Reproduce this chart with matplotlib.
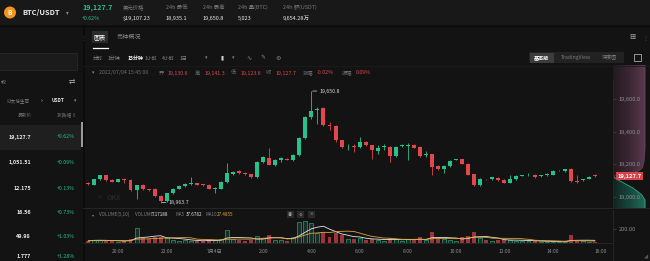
import numpy as np
import pandas as pd
import matplotlib
matplotlib.use("Agg")
import matplotlib.pyplot as plt
from matplotlib.patches import Rectangle, Ellipse
from matplotlib.lines import Line2D
from matplotlib.ticker import FuncFormatter
from matplotlib.colors import LinearSegmentedColormap

plt.rcParams['font.family'] = ['Noto Sans CJK SC', 'DejaVu Sans']

# ---------------- data ----------------
symbol = "BTC/USDT"
last_price_text = "19,127.7"
change_text = "+0.62%"
header_labels = ["美元价格", "24h 最低", "24h 最高", "24h 量(BTC)", "24h 额(USDT)"]
header_values = ["$19,107.23", "18,935.1", "19,650.8", "5,023", "9,654.28万"]

list_prices = ["19,127.7", "1,051.51", "12.175", "16.56", "49.98", "1.777"]
list_changes = ["+0.62%", "+0.09%", "+0.13%", "+0.73%", "+1.03%", "+1.28%"]

intervals = ["分时", "1分钟", "15分钟", "1小时", "4小时", "1日"]
ohlc_labels = ["开", "高", "低", "收", "涨幅", "振幅"]
ohlc_values = ["19,130.6", "19,141.3", "19,123.6", "19,127.7", "-0.02%", "0.09%"]
last_time = "2022/07/04 15:45:00"

opens = [19085, 19075, 19108, 19132, 19102, 19092, 19105, 19104, 19040, 19071,
         19045, 19050, 19003, 18972, 19020, 19050, 19067, 19079, 19082, 19076,
         19075, 19050, 19050, 19091, 19140, 19157, 19145, 19138, 19122, 19214,
         19239, 19198, 19223, 19235, 19227, 19255, 19362, 19491, 19532, 19547,
         19440, 19436, 19348, 19310, 19312, 19307, 19337, 19317, 19280, 19308,
         19307, 19249, 19311, 19313, 19321, 19307, 19259, 19262, 19190, 19173,
         19188, 19229, 19231, 19204, 19138, 19071, 19108, 19106, 19118, 19104,
         19087, 19106, 19130, 19131, 19136, 19126, 19132, 19136, 19162, 19157,
         19173, 19095, 19104, 19112, 19130.6]
highs = [19090, 19112, 19135, 19136, 19106, 19112, 19115, 19108, 19075, 19076,
         19048, 19055, 19008, 19025, 19054, 19070, 19085, 19122, 19085, 19080,
         19078, 19061, 19095, 19210, 19160, 19162, 19150, 19142, 19220, 19250,
         19301, 19230, 19243, 19240, 19263, 19370, 19500, 19650.8, 19553, 19553,
         19461, 19442, 19352, 19327, 19327, 19368, 19345, 19320, 19317, 19327,
         19315, 19311, 19327, 19330, 19327, 19311, 19280, 19266, 19195, 19195,
         19225, 19235, 19235, 19208, 19140, 19116, 19112, 19124, 19122, 19106,
         19136, 19132, 19135, 19143, 19140, 19135, 19144, 19163, 19166, 19173,
         19176, 19136, 19112, 19126, 19141.3]
lows = [19072, 19070, 19105, 19098, 19088, 19088, 19085, 19035, 18985, 19040,
        19038, 19000, 18963.7, 18968, 19015, 19045, 19062, 19075, 19070, 19068,
        19046, 19020, 19046, 19087, 19136, 19140, 19134, 19115, 19118, 19205,
        19194, 19188, 19215, 19226, 19222, 19252, 19358, 19478, 19450, 19435,
        19409, 19340, 19300, 19286, 19276, 19301, 19313, 19235, 19266, 19286,
        19214, 19245, 19305, 19225, 19298, 19245, 19245, 19132, 19165, 19143,
        19184, 19226, 19200, 19132, 19065, 19066, 19100, 19102, 19098, 19083,
        19084, 19102, 19128, 19128, 19116, 19122, 19129, 19133, 19159, 19154,
        19090, 19085, 19095, 19108, 19123.6]
closes = [19078, 19108, 19132, 19102, 19092, 19106, 19102, 19040, 19071, 19045,
          19043, 19005, 18974, 19020, 19050, 19067, 19081, 19083, 19075, 19074,
          19050, 19052, 19091, 19143, 19153, 19143, 19138, 19122, 19214, 19245,
          19198, 19225, 19239, 19229, 19259, 19362, 19491, 19526, 19543, 19440,
          19438, 19348, 19307, 19313, 19307, 19337, 19317, 19286, 19301, 19311,
          19249, 19307, 19317, 19321, 19301, 19251, 19262, 19184, 19173, 19190,
          19221, 19231, 19204, 19136, 19071, 19112, 19106, 19120, 19102, 19087,
          19106, 19128, 19132, 19133, 19120, 19132, 19141, 19159, 19163, 19169,
          19095, 19093, 19108, 19122, 19127.7]
volumes = [30, 45, 40, 35, 25, 20, 25, 60, 220, 70,
           55, 85, 90, 70, 50, 30, 40, 35, 30, 25,
           45, 40, 60, 185, 60, 40, 30, 45, 100, 70,
           115, 50, 40, 35, 90, 300, 310, 280, 150, 160,
           90, 140, 110, 60, 55, 70, 50, 60, 40, 30,
           70, 60, 35, 55, 40, 80, 45, 160, 60, 55,
           50, 30, 90, 100, 160, 70, 40, 35, 45, 50,
           40, 35, 25, 30, 35, 15, 20, 18, 16, 17.5,
           110, 32, 22, 17.2, 7.17]

time_tick_idx = [5, 13, 21, 29, 37, 45, 53, 61, 69, 77, 85]
time_tick_labels = ["20:00", "22:00", "7月4日", "2:00", "4:00", "6:00",
                    "8:00", "10:00", "12:00", "14:00", "16:00"]
price_ticks = [19000, 19200, 19400, 19600]
volume_ticks = [200]

ask_prices = [19128, 19135, 19145, 19160, 19180, 19220, 19300, 19500, 19830]
ask_depth = [0.05, 0.35, 0.6, 0.8, 0.92, 0.97, 1.0, 1.0, 1.0]
bid_prices = [19127, 19110, 19097, 19075, 19054, 19030, 19011, 18980, 18920]
bid_depth = [0.0, 0.1, 0.22, 0.42, 0.62, 0.78, 0.9, 1.0, 1.0]

vol_header = [("VOLUME(5,10)", "#7d7d7d"), ("VOLUME", "#7d7d7d"), ("7.17188", "#e6e6e6"),
              ("MA5", "#7d7d7d"), ("37.6782", "#e6e6e6"), ("MA10", "#7d7d7d"),
              ("27.4855", "#e0a33a")]

# ---------------- style ----------------
BG = "#131313"
HEADER_BG = "#181818"
GREEN = "#25c28c"
RED = "#e2474d"
GREY = "#868686"
WHITE = "#e8e8e8"
LINE = "#262626"

W, H = 650, 261
fig = plt.figure(figsize=(6.5, 2.61), dpi=100, facecolor=BG)


def fx(x):
    return x / W


def fy(y):
    return 1 - y / H


def T(x, y, s, size=4.0, color=GREY, ha="left", va="center", weight="normal", **kw):
    return fig.text(fx(x), fy(y), s, fontsize=size, color=color, ha=ha, va=va,
                    fontweight=weight, **kw)


def R(x0, y0, x1, y1, fc, ec="none", lw=0.5, z=0):
    fig.patches.append(Rectangle((fx(x0), fy(y1)), (x1 - x0) / W, (y1 - y0) / H,
                                 transform=fig.transFigure, facecolor=fc,
                                 edgecolor=ec, lw=lw, zorder=z))


def L(x0, y0, x1, y1, color=LINE, lw=0.7):
    fig.add_artist(Line2D([fx(x0), fx(x1)], [fy(y0), fy(y1)],
                          transform=fig.transFigure, color=color, lw=lw))


# ---------------- header ----------------
R(0, 0, 650, 25, HEADER_BG)
L(0, 25.5, 650, 25.5, "#0a0a0a", 1.0)
fig.patches.append(Ellipse((fx(10), fy(12.5)), 12 / W, 12 / H, transform=fig.transFigure,
                           facecolor="#f7931a", edgecolor="none"))
T(10, 12.5, "B", 4.6, "white", ha="center", weight="bold")
T(22, 12.5, symbol, 5.4, WHITE, weight="bold")
T(66, 13, "▾", 4.0, GREY)
T(82, 7.5, last_price_text, 5.2, GREEN, weight="bold")
T(82, 18.5, change_text, 3.8, GREEN)
for xpos, lab, val in zip([123, 166, 203, 238, 283], header_labels, header_values):
    T(xpos, 7.5, lab, 3.9, "#7a7a7a")
    T(xpos, 18.5, val, 4.0, WHITE)

# ---------------- left panel ----------------
L(83.5, 26, 83.5, 261, "#0a0a0a", 1.2)
R(-2, 53, 77, 70, "#1b1b1b", ec="#2c2c2c", lw=0.5)
T(1, 82, "权", 3.6, GREY)
T(72, 82, "⇄", 4.6, "#bdbdbd", ha="center")
T(7, 101, "以太坊生态", 3.3, GREY)
T(41, 101, "›", 4.2, WHITE, ha="center")
T(52, 101, "USDT", 3.4, WHITE, weight="bold")
T(75, 101, "▾", 3.4, GREY, ha="center")
T(32, 115, "最新价", 3.4, "#6f6f6f", ha="right")
T(76, 115, "涨跌幅 ⇕", 3.4, "#6f6f6f", ha="right")
R(0, 125, 81, 150, "#1f1f1f")
R(81.5, 122, 83, 147, "#9a9a9a")
row_y = [137, 162, 188, 213, 237, 257]
for yy, p, c in zip(row_y, list_prices, list_changes):
    T(31, yy, p, 3.9, WHITE, ha="right", weight="bold")
    T(75, yy, c, 3.8, GREEN, ha="right")

# ---------------- chart panel header ----------------
T(83, 37, "⋮", 4.5, "#5a5a5a", ha="center")
R(92, 31, 108, 43, "#2b2b2b")
T(100, 37, "图表", 4.4, "white", ha="center")
L(93, 48, 108, 48, "white", 0.9)
T(117, 37, "币种概况", 4.4, GREY)
T(632, 37, "▦", 4.5, "#9a9a9a", ha="center")
T(645, 37, "⋮", 4.5, "#5a5a5a", ha="center")

xs_int = [93, 108, 128, 145, 162, 180]
for xpos, s in zip(xs_int, intervals):
    if s == "15分钟":
        T(xpos, 58, s, 3.6, "white", weight="bold")
    else:
        T(xpos, 58, s, 3.6, GREY)
T(206, 58, "▾", 3.6, GREY, ha="center")
T(222, 58, "▮", 4.0, "#cfcfcf", ha="center")
T(233, 58, "▾", 3.6, GREY, ha="center")
T(249, 58, "∿", 4.4, GREY, ha="center")
T(263, 58, "✎", 4.2, GREY, ha="center")
T(278, 58, "⚙", 4.4, GREY, ha="center")

R(529, 52, 624, 63, "#222222")
R(530, 52.5, 554, 62.5, "#3c3c3c")
T(542, 57.5, "基本版", 3.7, "white", ha="center", weight="bold")
T(576, 57.5, "TradingView", 3.7, "#7a7a7a", ha="center")
T(610, 57.5, "深度图", 3.7, "#7a7a7a", ha="center")
R(634, 54, 641, 61, "none", ec="#aaaaaa", lw=0.6)

L(83, 66, 650, 66, "#1c1c1c", 0.6)

T(93, 73, "▾", 3.4, GREY, ha="center")
T(99, 73, last_time, 3.8, "#6f6f6f")
lab_x = [159, 195, 231, 266, 303, 342]
val_x = [167, 204, 240, 275, 317, 356]
for lx, vx_, lab, val in zip(lab_x, val_x, ohlc_labels, ohlc_values):
    T(lx, 73, lab, 3.8, "#6f6f6f")
    T(vx_, 73, val, 3.8, RED)

# ---------------- depth shading on price scale ----------------
main_top, main_bot = 80, 208
px_per_unit = (196.7 - 99.3) / 600.0
y_top_price = 19600 + (99.3 - main_top) / px_per_unit
y_bot_price = 19600 - (main_bot - 99.3) / px_per_unit
depth_top = 65
depth_top_price = 19600 + (99.3 - depth_top) / px_per_unit

axd = fig.add_axes([fx(613), fy(main_bot), 37 / W, (main_bot - depth_top) / H], zorder=0)
axd.set_facecolor("none")
axd.axis("off")
pk = axd.fill_betweenx(ask_prices, 0, ask_depth, color="#34232d", lw=0)
grad = np.linspace(0, 1, 64).reshape(1, -1)
cm_pink = LinearSegmentedColormap.from_list("pk", ["#231a20", "#3a2632", "#5a3a4d"])
im = axd.imshow(grad, cmap=cm_pink, aspect="auto",
                extent=[0, 1, y_bot_price, depth_top_price], zorder=1)
im.set_clip_path(pk.get_paths()[0], transform=axd.transData)
tl = axd.fill_betweenx(bid_prices, 0, bid_depth, color="#153a33", lw=0)
cm_teal = LinearSegmentedColormap.from_list("tl", ["#10251f", "#17463b", "#22695a"])
im2 = axd.imshow(grad, cmap=cm_teal, aspect="auto",
                 extent=[0, 1, y_bot_price, depth_top_price], zorder=1)
im2.set_clip_path(tl.get_paths()[0], transform=axd.transData)
axd.plot(bid_depth, bid_prices, color="#2fa88a", lw=0.6, zorder=2)
axd.plot(ask_depth, ask_prices, color="#6b4259", lw=0.5, zorder=2)
axd.set_xlim(0, 37 / 32)
axd.set_ylim(y_bot_price, depth_top_price)

# ---------------- main candle chart ----------------
ax = fig.add_axes([fx(83), fy(main_bot), (613 - 83) / W, (main_bot - main_top) / H], zorder=2)
ax.set_facecolor("none")
o = np.array(opens, float)
h = np.array(highs, float)
l = np.array(lows, float)
c = np.array(closes, float)
x = np.arange(len(o))
up = c >= o
cols = np.where(up, GREEN, RED)
ax.vlines(x, l, h, colors=cols, lw=0.6)
body_b = np.minimum(o, c)
body_h = np.maximum(np.abs(c - o), 4.5)
ax.bar(x, body_h, bottom=body_b, width=0.66, color=cols, edgecolor="none")

x_left = (83 - 88.3) / 6.03
x_right = (613 - 88.3) / 6.03
ax.set_xlim(x_left, x_right)
ax.set_ylim(y_bot_price, y_top_price)
ax.yaxis.tick_right()
ax.set_yticks(price_ticks)
ax.yaxis.set_major_formatter(FuncFormatter(lambda v, p: f"{v:,.1f}"))
ax.tick_params(axis="y", colors="#4a4a4a", labelcolor="#8c8c8c", labelsize=4.1,
               length=2, width=0.5, pad=2)
ax.set_xticks([])
for s in ["top", "left", "bottom"]:
    ax.spines[s].set_visible(False)
ax.spines["right"].set_color(LINE)
ax.spines["right"].set_linewidth(0.7)

ihi = int(np.argmax(h))
ilo = int(np.argmin(l))
ax.annotate(f"{h[ihi]:,.1f}", xy=(ihi + 0.2, h[ihi]), xytext=(5, 0),
            textcoords="offset points", ha="left", va="center", fontsize=3.8,
            color="#d8d8d8", arrowprops=dict(arrowstyle="-", color="#d8d8d8", lw=0.5,
                                             shrinkA=0, shrinkB=0))
ax.annotate(f"{l[ilo]:,.1f}", xy=(ilo + 0.2, l[ilo]), xytext=(5, 0),
            textcoords="offset points", ha="left", va="center", fontsize=3.8,
            color="#d8d8d8", arrowprops=dict(arrowstyle="-", color="#d8d8d8", lw=0.5,
                                             shrinkA=0, shrinkB=0))
ax.annotate(f"{c[-1]:,.1f}", xy=(1, c[-1]), xycoords=("axes fraction", "data"),
            xytext=(11.8, 0), textcoords="offset points", ha="center", va="center",
            fontsize=4.1, color="white", weight="bold", annotation_clip=False,
            bbox=dict(boxstyle="square,pad=0.25", fc="#d8434a", ec="none"))

# watermark
T(99, 197, "✕", 5.0, "#262626", ha="center", weight="bold")
T(107, 197, "OKX", 5.0, "#262626", weight="bold")

L(83, main_bot, 650, main_bot, LINE, 0.7)

# ---------------- volume pane ----------------
vol_top, vol_bot = 210, 243
axv = fig.add_axes([fx(83), fy(vol_bot), (613 - 83) / W, (vol_bot - vol_top) / H], zorder=2)
axv.set_facecolor("none")
v = np.array(volumes, float)
axv.bar(x[up], v[up], width=0.66, facecolor=(0.15, 0.76, 0.55, 0.18),
        edgecolor=GREEN, lw=0.4)
axv.bar(x[~up], v[~up], width=0.66, facecolor=(0.80, 0.25, 0.28, 0.75),
        edgecolor="none")
vs = pd.Series(v)
axv.plot(x, vs.rolling(5, min_periods=1).mean(), color="#e6e6e6", lw=0.6)
axv.plot(x, vs.rolling(10, min_periods=1).mean(), color="#e0a33a", lw=0.6)
axv.set_xlim(x_left, x_right)
vol_max = 200 * (vol_bot - vol_top) / 14.0
axv.set_ylim(0, vol_max)
axv.yaxis.tick_right()
axv.set_yticks(volume_ticks)
axv.yaxis.set_major_formatter(FuncFormatter(lambda val, p: f"{val:.2f}"))
axv.tick_params(axis="y", colors="#4a4a4a", labelcolor="#8c8c8c", labelsize=4.1,
                length=2, width=0.5, pad=2)
axv.set_xticks(time_tick_idx)
axv.set_xticklabels(time_tick_labels)
axv.tick_params(axis="x", colors="#4a4a4a", labelcolor="#8c8c8c", labelsize=3.6,
                length=0, pad=4)
for s in ["top", "left"]:
    axv.spines[s].set_visible(False)
axv.spines["right"].set_color(LINE)
axv.spines["bottom"].set_color(LINE)
axv.spines["right"].set_linewidth(0.7)
axv.spines["bottom"].set_linewidth(0.7)
L(613, 243, 613, 261, LINE, 0.7)

T(93, 214.5, "▾", 3.2, GREY, ha="center")
vxs = [99, 135, 152, 175, 186, 205, 217]
for xx, (s, col) in zip(vxs, vol_header):
    T(xx, 214.5, s, 3.3, col)
for xx, sym in zip([290, 300, 311], ["◉", "⚙", "✕"]):
    R(xx - 3.5, 211, xx + 3.5, 218, "#2a2a2a")
    T(xx, 214.5, sym, 3.0, "#9a9a9a", ha="center")

T(646, 257, "◢", 3.0, "#5a5a5a", ha="center")

fig.savefig("out.png", dpi=100, facecolor=BG)
